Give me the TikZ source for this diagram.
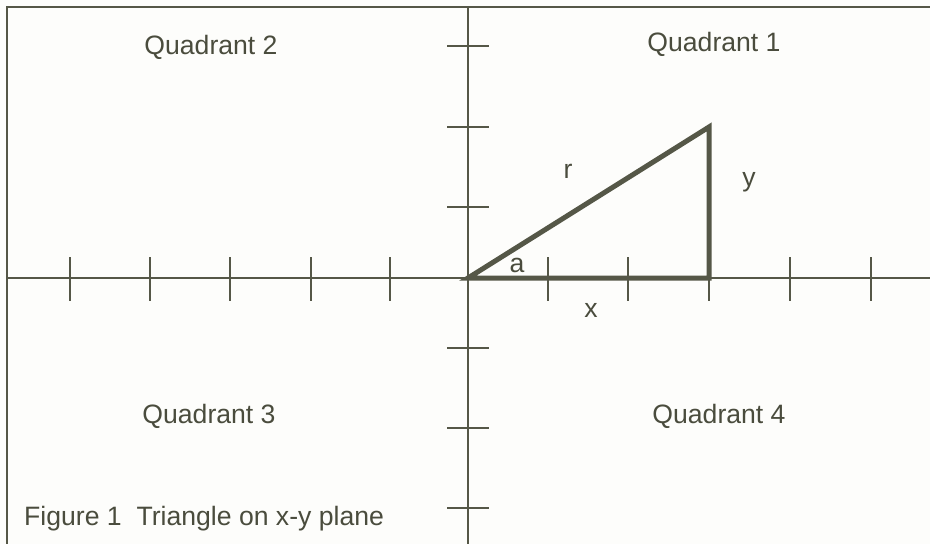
\documentclass[tikz,border=0pt]{standalone}
\usepackage{fontspec}
\setmainfont{Liberation Sans}
\definecolor{ink}{HTML}{555747}
\definecolor{textink}{HTML}{4A4C3D}
\definecolor{paper}{HTML}{FDFDFB}
\begin{document}
\begin{tikzpicture}[x=1pt,y=-1pt,
  axis/.style={draw=ink,line width=2.3pt},
  tickmark/.style={draw=ink,line width=2pt},
  side/.style={draw=ink,line width=5pt,line cap=round,line join=miter},
  lbl/.style={text=textink,font=\fontsize{26.6}{30}\selectfont,inner sep=0pt}]
\fill[paper] (0,0) rectangle (930,544);
\useasboundingbox (0,0) rectangle (930,544);
% frame
\draw[axis] (930,7) -- (7,7) -- (7,544);
% coordinates
\coordinate (O) at (468,278);
\coordinate (P) at (709,127);
\coordinate (B) at (709,278);
\coordinate (L) at (7,278);
\coordinate (R) at (930,278);
\coordinate (T) at (468,7);
\coordinate (D) at (468,544);
% axes
\draw[axis] (L) -- (R);
\draw[axis] (T) -- (D);
% x ticks
\foreach \x in {70,150,230,311,390,548,628,709,790,871}
  \draw[tickmark] (\x,257) -- (\x,301);
% y ticks
\foreach \y in {46,127,207,348,428,508}
  \draw[tickmark] (447,\y) -- (489,\y);
% triangle
\draw[side] (O) -- (P) -- (B) -- cycle;
% labels
\node[lbl] (q2) at (211,47) {Quadrant 2};
\node[lbl] (q1) at (714,44) {Quadrant 1};
\node[lbl] (q3) at (209,416) {Quadrant 3};
\node[lbl] (q4) at (719,416) {Quadrant 4};
\node[lbl] (r) at (568,171) {r};
\node[lbl] (y) at (749,182) {y};
\node[lbl] (a) at (517,265) {a};
\node[lbl] (xl) at (591,310) {x};
\node[lbl,anchor=west] (cap) at (24,519) {Figure 1\ \ Triangle on x-y plane};
\end{tikzpicture}
\end{document}
